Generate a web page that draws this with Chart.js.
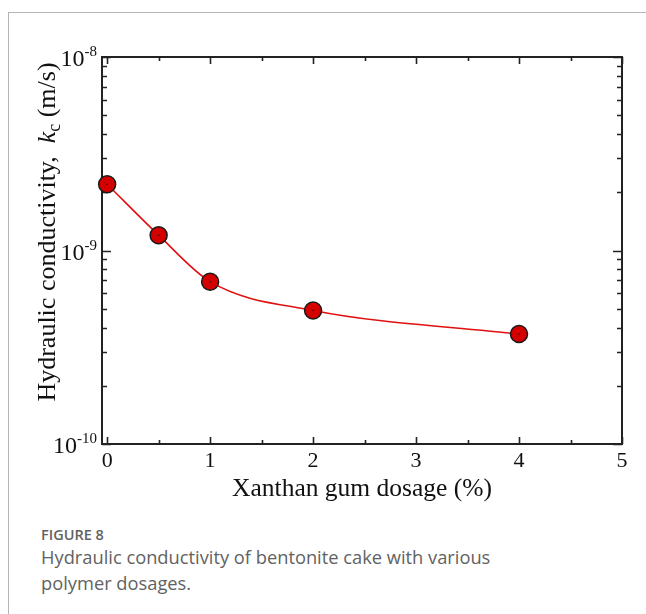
<!DOCTYPE html>
<html>
<head>
<meta charset="utf-8">
<script src="https://cdn.jsdelivr.net/npm/chart.js@4"></script>
<style>
  html, body { margin: 0; padding: 0; background: #fff; }
  body { width: 646px; height: 614px; position: relative; overflow: hidden; }
  .card { position: absolute; left: 8px; top: 12px; width: 660px; height: 640px;
          border-left: 1px solid #b5b5b5; border-top: 1px solid #b5b5b5; }
  #wrap { position: absolute; left: 0; top: 0; width: 646px; height: 510px; }
  .cap { position: absolute; left: 41px; font-family: "Open Sans", sans-serif; color: #626262; white-space: nowrap; }
  .fig { top: 525px; font-size: 14.5px; font-weight: 600; }
  .txt { top: 544px; font-size: 18.3px; line-height: 26px; }
</style>
</head>
<body>
<div class="card"></div>
<div id="wrap"><canvas id="c" width="646" height="510"></canvas></div>
<div class="cap fig">FIGURE 8</div>
<div class="cap txt">Hydraulic conductivity of bentonite cake with various<br>polymer dosages.</div>
<script>
  // measured data
  const dosage = [0, 0.5, 1, 2, 4];
  const kc = [2.2e-9, 1.2e-9, 6.9e-10, 4.9e-10, 3.7e-10];

  // axis ticks
  const xMajor = [0, 1, 2, 3, 4, 5];
  const xMinor = [0.5, 1.5, 2.5, 3.5, 4.5];
  const yExp = [-10, -9, -8];
  const yMinorMult = [2, 3, 4, 5, 6, 7, 8, 9];

  const SERIF = '"Liberation Serif", "Times New Roman", serif';

  const axesPlugin = {
    id: "axesPlugin",
    beforeDatasetsDraw(chart) {
      const ctx = chart.ctx;
      const a = chart.chartArea;
      const xs = chart.scales.x, ys = chart.scales.y;
      ctx.save();
      ctx.strokeStyle = "#222";
      ctx.lineWidth = 2;
      ctx.strokeRect(a.left, a.top, a.right - a.left, a.bottom - a.top);

      // x ticks (inward, top and bottom)
      ctx.lineWidth = 1.6;
      const tickX = (v, len) => {
        const px = Math.round(xs.getPixelForValue(v)) + 0.5;
        ctx.beginPath();
        ctx.moveTo(px, a.bottom); ctx.lineTo(px, a.bottom - len);
        ctx.moveTo(px, a.top); ctx.lineTo(px, a.top + len);
        ctx.stroke();
      };
      xMajor.forEach(v => tickX(v, 7));
      xMinor.forEach(v => tickX(v, 4));

      // y ticks (inward, left and right)
      const tickY = (v, len) => {
        const py = Math.round(ys.getPixelForValue(v)) + 0.5;
        ctx.beginPath();
        ctx.moveTo(a.left, py); ctx.lineTo(a.left + len, py);
        ctx.moveTo(a.right, py); ctx.lineTo(a.right - len, py);
        ctx.stroke();
      };
      yExp.forEach(e => tickY(Math.pow(10, e), 9));
      yExp.slice(0, -1).forEach(e => yMinorMult.forEach(m => tickY(m * Math.pow(10, e), 5)));

      // x tick labels
      ctx.fillStyle = "#111";
      ctx.font = "22px " + SERIF;
      ctx.textAlign = "center";
      ctx.textBaseline = "top";
      xMajor.forEach(v => ctx.fillText(String(v), xs.getPixelForValue(v), a.bottom + 6));

      // y tick labels: 10^n
      yExp.forEach(e => {
        const py = ys.getPixelForValue(Math.pow(10, e));
        const sup = "-" + Math.abs(e);
        ctx.font = "15px " + SERIF;
        const wSup = ctx.measureText(sup).width;
        ctx.textAlign = "left";
        ctx.textBaseline = "alphabetic";
        const supX = a.left - 5 - wSup;
        ctx.fillText(sup, supX, py - 1);
        ctx.font = "24px " + SERIF;
        ctx.textAlign = "right";
        ctx.fillText("10", supX, py + 9);
      });

      // x title
      ctx.font = "25.5px " + SERIF;
      ctx.textAlign = "center";
      ctx.textBaseline = "alphabetic";
      ctx.fillText("Xanthan gum dosage (%)", 362, 496);

      // y title (rotated, italic k with subscript c)
      ctx.translate(55, 232);
      ctx.rotate(-Math.PI / 2);
      const parts = [
        { t: "Hydraulic conductivity,  ", f: "26px " + SERIF, dy: 0 },
        { t: "k", f: "italic 26px " + SERIF, dy: 0 },
        { t: "c", f: "18px " + SERIF, dy: 5 },
        { t: " (m/s)", f: "26px " + SERIF, dy: 0 }
      ];
      let total = 0;
      parts.forEach(p => { ctx.font = p.f; total += ctx.measureText(p.t).width; });
      let cx = -total / 2;
      ctx.textAlign = "left";
      parts.forEach(p => {
        ctx.font = p.f;
        ctx.fillText(p.t, cx, p.dy);
        cx += ctx.measureText(p.t).width;
      });
      ctx.restore();
    },
    afterDatasetsDraw(chart) {
      // tiny centre dot in each marker
      const ctx = chart.ctx;
      const meta = chart.getDatasetMeta(0);
      ctx.save();
      ctx.fillStyle = "#111";
      meta.data.forEach(pt => ctx.fillRect(pt.x - 0.5, pt.y - 0.5, 1.2, 1.2));
      ctx.restore();
    }
  };

  new Chart(document.getElementById("c"), {
    type: "line",
    data: {
      datasets: [{
        data: dosage.map((x, i) => ({ x, y: kc[i] })),
        borderColor: "#e01010",
        borderWidth: 1.6,
        cubicInterpolationMode: "monotone",
        pointRadius: 8.5,
        pointBackgroundColor: "#d40000",
        pointBorderColor: "#1a1a1a",
        pointBorderWidth: 1.5,
        clip: false
      }]
    },
    options: {
      responsive: false,
      animation: false,
      layout: { padding: { left: 102, right: 24, top: 57, bottom: 66 } },
      plugins: { legend: { display: false }, tooltip: { enabled: false } },
      scales: {
        x: { type: "linear", min: -0.05, max: 5, display: false },
        y: { type: "logarithmic", min: 1e-10, max: 1e-8, display: false }
      }
    },
    plugins: [axesPlugin]
  });
</script>
</body>
</html>
